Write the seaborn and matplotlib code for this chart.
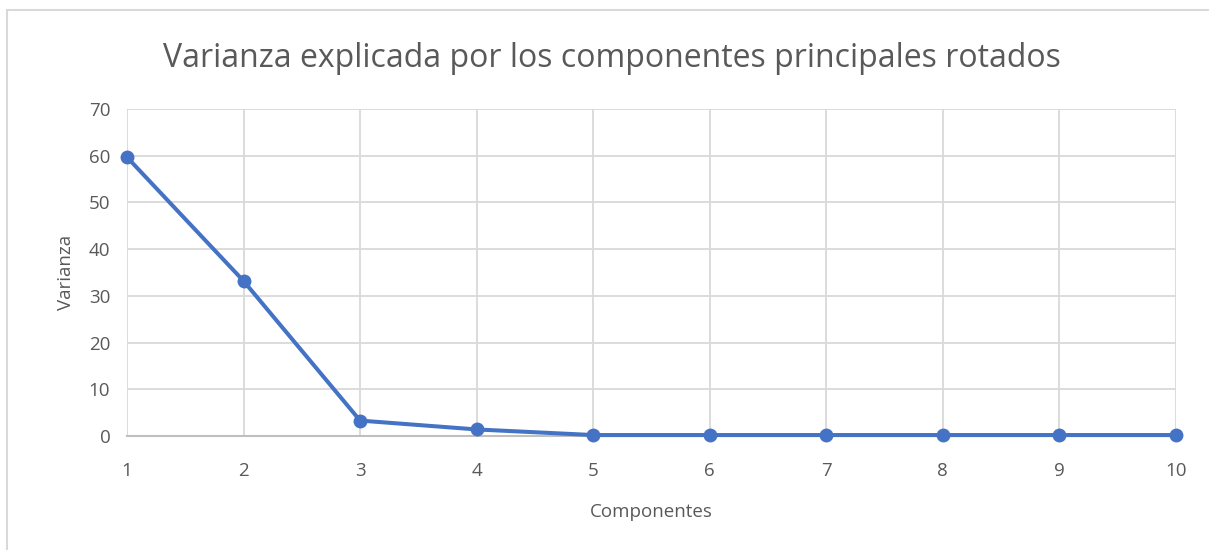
import numpy as np
import pandas as pd
import seaborn as sns
import matplotlib.pyplot as plt
from matplotlib.patches import Rectangle

# Datos
componentes = [1, 2, 3, 4, 5, 6, 7, 8, 9, 10]
varianza = [59.7, 33.2, 3.3, 1.4, 0.2, 0.2, 0.2, 0.2, 0.2, 0.2]

df = pd.DataFrame({"Componentes": componentes, "Varianza": varianza})

sns.set_theme(style="white")
plt.rcParams["font.family"] = ["Open Sans", "DejaVu Sans"]

fig = plt.figure(figsize=(12.09, 5.5), dpi=100)
ax = fig.add_axes([0.105, 0.2073, 0.8677, 0.5945])

sns.lineplot(data=df, x="Componentes", y="Varianza", ax=ax, color="#4472C4",
             linewidth=2.9, marker="o", markersize=10, markeredgewidth=0,
             clip_on=False, zorder=5)

gris = "#595959"
ax.set_xlim(1, 10)
ax.set_ylim(0, 70)
ax.set_xticks(componentes)
ax.set_yticks(range(0, 71, 10))
ax.grid(True, color="#D9D9D9", linewidth=1.3)
ax.set_axisbelow(True)
for s in ["top", "right", "left"]:
    ax.spines[s].set_visible(False)
ax.spines["bottom"].set_color("#BFBFBF")
ax.spines["bottom"].set_linewidth(1.5)
ax.spines["bottom"].set_zorder(1)
ax.tick_params(axis="both", length=0, labelsize=13.5, colors=gris)
ax.tick_params(axis="x", pad=19)
ax.tick_params(axis="y", pad=12)
ax.set_xlabel("Componentes", fontsize=13.5, color=gris, labelpad=16)
ax.set_ylabel("Varianza", fontsize=13.5, color=gris, labelpad=10)

fig.text(0.506, 0.893, "Varianza explicada por los componentes principales rotados",
         ha="center", va="center", fontsize=23, color=gris)

# marco del gráfico
fig.patches.append(Rectangle((7 / 1209, -0.01), 1.0, 1 - 10 / 550 + 0.01,
                             transform=fig.transFigure, fill=False,
                             edgecolor="#D9D9D9", linewidth=1.5))

plt.savefig("out.png", dpi=100)
